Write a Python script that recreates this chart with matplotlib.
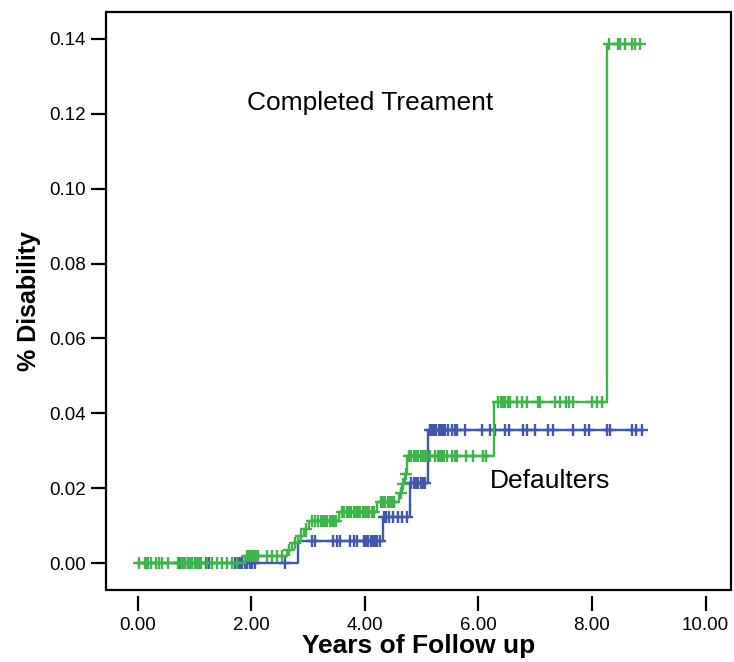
import numpy as np
import matplotlib
matplotlib.use("Agg")
import matplotlib.pyplot as plt
from matplotlib.patches import Rectangle

plt.rcParams["font.family"] = ["Liberation Sans", "DejaVu Sans"]

# Completed treatment (green): step times and cumulative disability
green_t = [0, 1.88, 2.62, 2.72, 2.82, 2.92, 3.02, 3.55, 4.22, 4.60, 4.65, 4.70, 4.75, 6.27, 8.27]
green_s = [0, 0.0018, 0.0036, 0.0054, 0.0072, 0.0090, 0.0112, 0.0136, 0.0162,
           0.0188, 0.0212, 0.0238, 0.0285, 0.0430, 0.1385]
green_end = 8.85
green_cens = [0.03, 0.12, 0.15, 0.18, 0.24, 0.32, 0.38, 0.42, 0.53, 0.70, 0.76, 0.80,
              0.84, 0.88, 0.92, 0.96, 1.00, 1.04, 1.08, 1.12, 1.22, 1.31, 1.39, 1.48,
              1.57, 1.66, 1.75,
              1.93, 1.96, 1.99, 2.02, 2.05, 2.08, 2.11, 2.27, 2.36, 2.45, 2.54,
              2.67, 2.77, 2.87, 2.97,
              3.07, 3.12, 3.18, 3.22, 3.26, 3.30, 3.34, 3.38, 3.42, 3.46, 3.50,
              3.60, 3.64, 3.68, 3.72, 3.76, 3.80, 3.84, 3.88, 3.92, 3.96, 4.00,
              4.04, 4.08, 4.12, 4.16,
              4.28, 4.32, 4.36, 4.40, 4.44, 4.48, 4.52,
              4.63, 4.68, 4.72,
              4.78, 4.82, 4.86, 4.90, 4.94, 4.98, 5.02, 5.06, 5.10, 5.14, 5.24,
              5.28, 5.32, 5.36, 5.40, 5.44, 5.54, 5.58, 5.62, 5.78, 5.90, 6.08, 6.13,
              6.35, 6.39, 6.43, 6.47, 6.52, 6.56, 6.68, 6.77, 6.86, 7.05, 7.09,
              7.35, 7.44, 7.55, 7.60, 7.67, 8.00, 8.08, 8.18,
              8.30, 8.45, 8.49, 8.59, 8.71, 8.76, 8.85]

# Defaulters (blue)
blue_t = [0, 2.82, 4.32, 4.80, 5.12]
blue_s = [0, 0.0060, 0.0123, 0.0214, 0.0355]
blue_end = 8.88
blue_cens = [0.72, 0.76, 0.80, 0.88, 1.20, 1.25, 1.72, 1.76, 1.80, 1.84, 1.88, 1.93,
             1.97, 2.02, 2.07, 2.60,
             3.07, 3.12, 3.44, 3.51, 3.56, 3.74, 3.80, 3.86, 3.98, 4.02, 4.06,
             4.10, 4.14, 4.18, 4.22, 4.26,
             4.34, 4.38, 4.42, 4.50, 4.58, 4.66, 4.75,
             4.82, 4.86, 4.90, 4.94, 4.98, 5.02, 5.06,
             5.14, 5.18, 5.22, 5.26, 5.30, 5.34, 5.38, 5.42, 5.46, 5.54, 5.58,
             5.63, 5.76, 6.06, 6.20, 6.30, 6.47, 6.53, 6.79, 6.86, 7.00, 7.23,
             7.32, 7.67, 7.88, 7.94, 8.27, 8.32, 8.71, 8.77, 8.88]

x_ticks = [0, 2, 4, 6, 8, 10]
y_ticks = [0.00, 0.02, 0.04, 0.06, 0.08, 0.10, 0.12, 0.14]

GREEN = "#3db54a"
BLUE = "#3f58a8"


def draw_curve(ax, times, surv, end, cens, color):
    t = np.append(times, end)
    s = np.append(surv, surv[-1])
    ax.plot(t, s, drawstyle="steps-post", color=color, lw=1.7, zorder=3)
    idx = np.searchsorted(times, cens, side="right") - 1
    ax.plot(cens, np.asarray(surv)[idx], "+", color=color, ms=8.5, mew=1.7, zorder=3)


fig = plt.figure(figsize=(7.34, 6.62), dpi=100)
ax = fig.add_axes([0.1444, 0.1088, 0.8516, 0.8732])

draw_curve(ax, blue_t, blue_s, blue_end, blue_cens, BLUE)
draw_curve(ax, green_t, green_s, green_end, green_cens, GREEN)

ax.set_xlim(-0.56, 10.45)
ax.set_ylim(-0.0072, 0.1472)
ax.set_xticks(x_ticks)
ax.set_xticklabels([f"{v:.2f}" for v in x_ticks])
ax.set_yticks(y_ticks)
ax.set_yticklabels([f"{v:.2f}" for v in y_ticks])

for side in ["top", "right"]:
    ax.spines[side].set_visible(False)
ax.spines["bottom"].set_position(("outward", 4))
for side in ["bottom", "left"]:
    ax.spines[side].set_visible(False)
ax.add_patch(Rectangle((0, 0), 1, 1, transform=ax.transAxes, fill=False,
                       lw=1.6, edgecolor="black", clip_on=False, zorder=5))

ax.tick_params(axis="both", direction="out", length=10.5, width=1.6,
               labelsize=13.5, colors="black")
ax.tick_params(axis="x", pad=5)
ax.tick_params(axis="y", pad=4)

ax.set_xlabel("Years of Follow up", fontsize=19, fontweight="bold", labelpad=0)
ax.set_ylabel("% Disability", fontsize=18, fontweight="bold", labelpad=6,
              family=["Liberation Sans Narrow", "Liberation Sans"])

ax.text(4.09, 0.123, "Completed Treament", fontsize=19, ha="center", va="center")
ax.text(7.27, 0.0219, "Defaulters", fontsize=19, ha="center", va="center")

fig.savefig("out.png", dpi=100)
